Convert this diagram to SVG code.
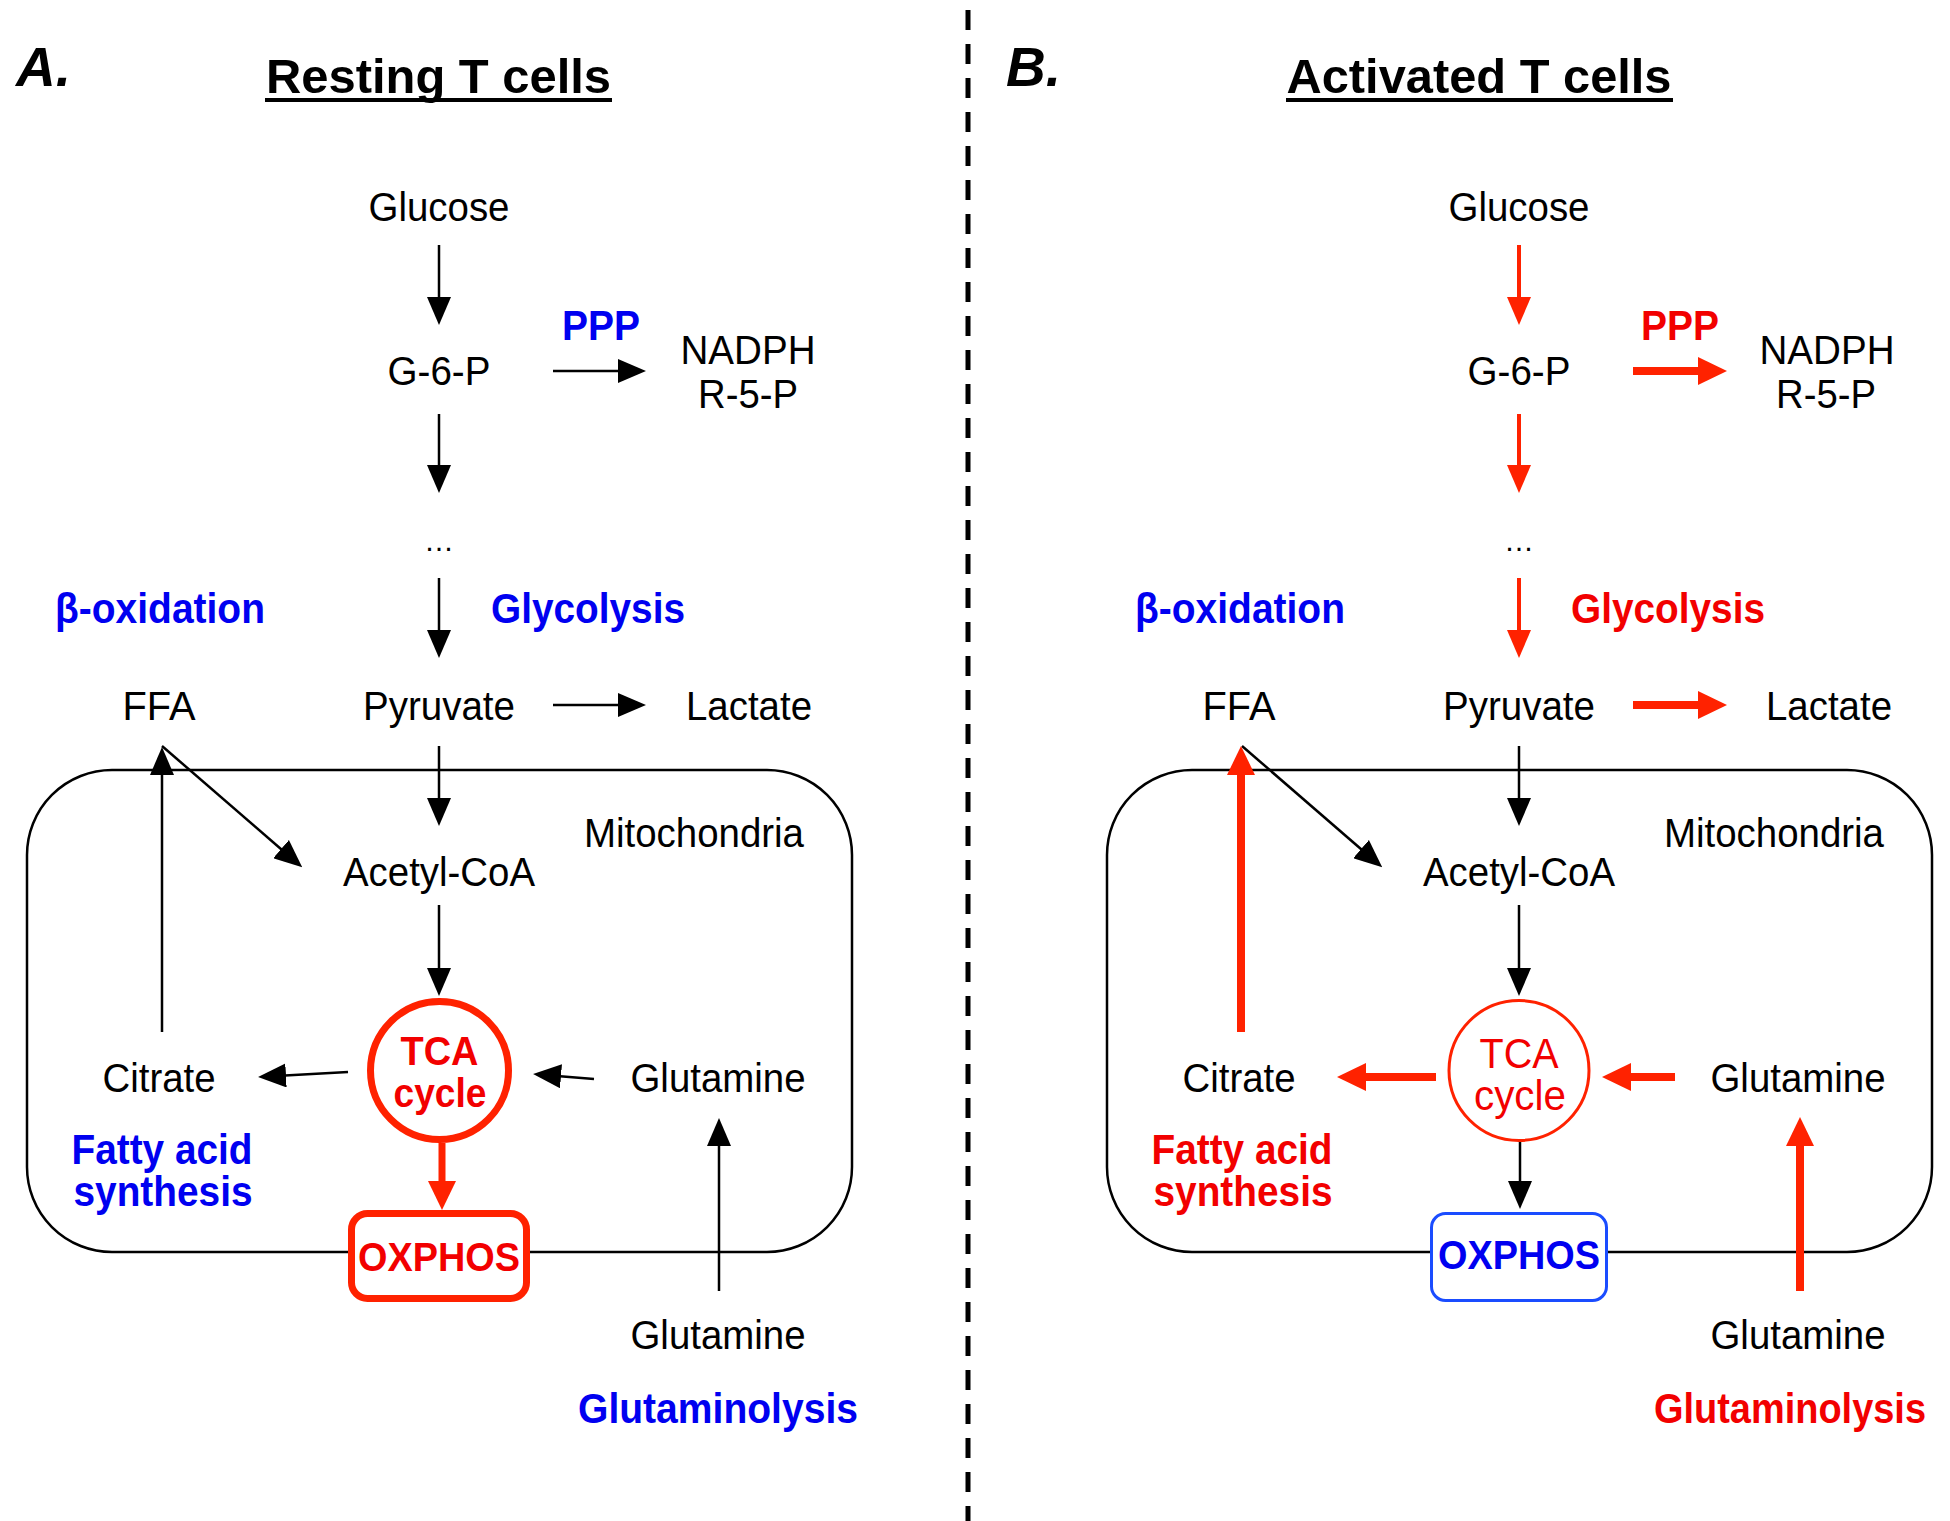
<svg xmlns="http://www.w3.org/2000/svg" width="1950" height="1521" viewBox="0 0 1950 1521">
<style>
text{font-family:"Liberation Sans",Arial,sans-serif;text-anchor:middle;fill:#000;font-size:41px}
.b{font-weight:bold;font-size:42px}
.ttl{font-weight:bold;font-size:49px}
.lab{font-weight:bold;font-style:italic;font-size:55px;text-anchor:start}
.blue{fill:#0000f0}
.red{fill:#f20000}
.k{stroke:#000;stroke-width:2.5;fill:none}
.rt{stroke:#ff2200;stroke-width:4;fill:none}
.rk{stroke:#ff2200;stroke-width:8;fill:none}
.mito{fill:none;stroke:#000;stroke-width:2.5}
</style>
<defs>
<marker id="hk" markerUnits="userSpaceOnUse" viewBox="0 0 28 24" markerWidth="28" markerHeight="24" refX="1" refY="12" orient="auto"><path d="M0,0L28,12L0,24z" fill="#000"/></marker>
<marker id="hr" markerUnits="userSpaceOnUse" viewBox="0 0 28 24" markerWidth="28" markerHeight="24" refX="1" refY="12" orient="auto"><path d="M0,0L28,12L0,24z" fill="#ff2200"/></marker>
<marker id="hR" markerUnits="userSpaceOnUse" viewBox="0 0 29 28" markerWidth="29" markerHeight="28" refX="1" refY="14" orient="auto"><path d="M0,0L29,14L0,28z" fill="#ff2200"/></marker>
</defs>

<line x1="968" y1="10" x2="968" y2="1521" stroke="#000" stroke-width="5" stroke-dasharray="20 14"/>

<g id="panelA-titles">
<text class="lab" x="16" y="86">A.</text>
<text class="ttl" x="438.5" y="93" textLength="345" lengthAdjust="spacingAndGlyphs">Resting T cells</text>
<line x1="265" y1="100" x2="612" y2="100" stroke="#000" stroke-width="4"/>
</g>
<g id="panelB-titles">
<text class="lab" x="1006" y="86">B.</text>
<text class="ttl" x="1479" y="93" textLength="385" lengthAdjust="spacingAndGlyphs">Activated T cells</text>
<line x1="1286" y1="100" x2="1673" y2="100" stroke="#000" stroke-width="4"/>
</g>

<g id="mitoA"><rect class="mito" x="27" y="770" width="825" height="482" rx="85" ry="85"/><text x="694" y="847" textLength="220" lengthAdjust="spacingAndGlyphs">Mitochondria</text></g>
<g id="mitoB"><rect class="mito" x="1107" y="770" width="825" height="482" rx="85" ry="85"/><text x="1774" y="847" textLength="220" lengthAdjust="spacingAndGlyphs">Mitochondria</text></g>

<g id="connectors">
<!-- Panel A -->
<line class="k" x1="439" y1="245" x2="439" y2="298" marker-end="url(#hk)"/>
<line class="k" x1="553" y1="371" x2="619" y2="371" marker-end="url(#hk)"/>
<line class="k" x1="439" y1="414" x2="439" y2="466" marker-end="url(#hk)"/>
<line class="k" x1="439" y1="578" x2="439" y2="631" marker-end="url(#hk)"/>
<line class="k" x1="553" y1="705" x2="619" y2="705" marker-end="url(#hk)"/>
<line class="k" x1="439" y1="746" x2="439" y2="799" marker-end="url(#hk)"/>
<line class="k" x1="162" y1="746" x2="281.8" y2="849.7" marker-end="url(#hk)"/>
<line class="k" x1="162" y1="1032" x2="162" y2="774" marker-end="url(#hk)"/>
<line class="k" x1="439" y1="905" x2="439" y2="969" marker-end="url(#hk)"/>
<line class="k" x1="348" y1="1072" x2="285" y2="1075.5" marker-end="url(#hk)"/>
<line class="k" x1="594" y1="1079" x2="560" y2="1076.2" marker-end="url(#hk)"/>
<line x1="442" y1="1143" x2="442" y2="1182" stroke="#ff2200" stroke-width="7" marker-end="url(#hR)"/>
<line class="k" x1="719" y1="1291" x2="719" y2="1145" marker-end="url(#hk)"/>
<!-- Panel B -->
<line class="rt" x1="1519" y1="245" x2="1519" y2="298" marker-end="url(#hr)"/>
<line class="rk" x1="1633" y1="371" x2="1699" y2="371" marker-end="url(#hR)"/>
<line class="rt" x1="1519" y1="414" x2="1519" y2="466" marker-end="url(#hr)"/>
<line class="rt" x1="1519" y1="578" x2="1519" y2="631" marker-end="url(#hr)"/>
<line class="rk" x1="1633" y1="705" x2="1699" y2="705" marker-end="url(#hR)"/>
<line class="k" x1="1519" y1="746" x2="1519" y2="799" marker-end="url(#hk)"/>
<line class="k" x1="1242" y1="746" x2="1361.8" y2="849.7" marker-end="url(#hk)"/>
<line class="rk" x1="1241" y1="1032" x2="1241" y2="774" marker-end="url(#hR)"/>
<line class="k" x1="1519" y1="905" x2="1519" y2="969" marker-end="url(#hk)"/>
<line class="rk" x1="1436" y1="1077" x2="1365" y2="1077" marker-end="url(#hR)"/>
<line class="rk" x1="1675" y1="1077" x2="1630" y2="1077" marker-end="url(#hR)"/>
<line class="k" x1="1520" y1="1142" x2="1520" y2="1182" marker-end="url(#hk)"/>
<line class="rk" x1="1800" y1="1291" x2="1800" y2="1145" marker-end="url(#hR)"/>
</g>

<!-- Panel A nodes -->
<g id="A-glucose"><text x="439" y="221" textLength="141" lengthAdjust="spacingAndGlyphs">Glucose</text></g>
<g id="A-g6p"><text x="439" y="385" textLength="103" lengthAdjust="spacingAndGlyphs">G-6-P</text></g>
<g id="A-ppp"><text class="b blue" x="601" y="340" textLength="78" lengthAdjust="spacingAndGlyphs">PPP</text></g>
<g id="A-nadph"><text><tspan x="748" y="364" textLength="135" lengthAdjust="spacingAndGlyphs">NADPH</tspan><tspan x="748" y="408" textLength="100" lengthAdjust="spacingAndGlyphs">R-5-P</tspan></text></g>
<g id="A-dots"><text x="439" y="551" style="font-size:30px">…</text></g>
<g id="A-boxid"><text class="b blue" x="160" y="623" textLength="210" lengthAdjust="spacingAndGlyphs">β-oxidation</text></g>
<g id="A-glycolysis"><text class="b blue" x="588" y="623" textLength="194" lengthAdjust="spacingAndGlyphs">Glycolysis</text></g>
<g id="A-ffa"><text x="159" y="720" textLength="73" lengthAdjust="spacingAndGlyphs">FFA</text></g>
<g id="A-pyruvate"><text x="439" y="720" textLength="152" lengthAdjust="spacingAndGlyphs">Pyruvate</text></g>
<g id="A-lactate"><text x="749" y="720" textLength="126" lengthAdjust="spacingAndGlyphs">Lactate</text></g>
<g id="A-acetylcoa"><text x="439" y="886" textLength="192" lengthAdjust="spacingAndGlyphs">Acetyl-CoA</text></g>
<g id="A-tca"><circle cx="439.5" cy="1070.5" r="69" fill="#fff" stroke="#ff2200" stroke-width="7"/><text class="red" style="font-weight:bold;font-size:40px"><tspan x="439.5" y="1065" textLength="78" lengthAdjust="spacingAndGlyphs">TCA</tspan><tspan x="440" y="1107" textLength="93" lengthAdjust="spacingAndGlyphs">cycle</tspan></text></g>
<g id="A-citrate"><text x="159" y="1092" textLength="113" lengthAdjust="spacingAndGlyphs">Citrate</text></g>
<g id="A-glutamine"><text x="718" y="1092" textLength="175" lengthAdjust="spacingAndGlyphs">Glutamine</text></g>
<g id="A-fas"><text class="b blue"><tspan x="162" y="1164" textLength="181" lengthAdjust="spacingAndGlyphs">Fatty acid</tspan><tspan x="163" y="1206" textLength="179" lengthAdjust="spacingAndGlyphs">synthesis</tspan></text></g>
<g id="A-oxphos"><rect x="351.5" y="1213.5" width="175" height="85" rx="16" fill="#fff" stroke="#ff2200" stroke-width="7"/><text class="red" x="439" y="1271" style="font-weight:bold;font-size:40px" textLength="162" lengthAdjust="spacingAndGlyphs">OXPHOS</text></g>
<g id="A-glutamine-ext"><text x="718" y="1349" textLength="175" lengthAdjust="spacingAndGlyphs">Glutamine</text></g>
<g id="A-glutaminolysis"><text class="b blue" x="718" y="1423" textLength="280" lengthAdjust="spacingAndGlyphs">Glutaminolysis</text></g>

<!-- Panel B nodes -->
<g id="B-glucose"><text x="1519" y="221" textLength="141" lengthAdjust="spacingAndGlyphs">Glucose</text></g>
<g id="B-g6p"><text x="1519" y="385" textLength="103" lengthAdjust="spacingAndGlyphs">G-6-P</text></g>
<g id="B-ppp"><text class="b red" x="1680" y="340" textLength="78" lengthAdjust="spacingAndGlyphs">PPP</text></g>
<g id="B-nadph"><text><tspan x="1827" y="364" textLength="135" lengthAdjust="spacingAndGlyphs">NADPH</tspan><tspan x="1826" y="408" textLength="100" lengthAdjust="spacingAndGlyphs">R-5-P</tspan></text></g>
<g id="B-dots"><text x="1519" y="551" style="font-size:30px">…</text></g>
<g id="B-boxid"><text class="b blue" x="1240" y="623" textLength="210" lengthAdjust="spacingAndGlyphs">β-oxidation</text></g>
<g id="B-glycolysis"><text class="b red" x="1668" y="623" textLength="194" lengthAdjust="spacingAndGlyphs">Glycolysis</text></g>
<g id="B-ffa"><text x="1239" y="720" textLength="73" lengthAdjust="spacingAndGlyphs">FFA</text></g>
<g id="B-pyruvate"><text x="1519" y="720" textLength="152" lengthAdjust="spacingAndGlyphs">Pyruvate</text></g>
<g id="B-lactate"><text x="1829" y="720" textLength="126" lengthAdjust="spacingAndGlyphs">Lactate</text></g>
<g id="B-acetylcoa"><text x="1519" y="886" textLength="192" lengthAdjust="spacingAndGlyphs">Acetyl-CoA</text></g>
<g id="B-tca"><circle cx="1519" cy="1070.5" r="70" fill="#fff" stroke="#ff2200" stroke-width="3"/><text class="red" style="font-size:42px"><tspan x="1519" y="1068" textLength="79" lengthAdjust="spacingAndGlyphs">TCA</tspan><tspan x="1520" y="1110" textLength="92" lengthAdjust="spacingAndGlyphs">cycle</tspan></text></g>
<g id="B-citrate"><text x="1239" y="1092" textLength="113" lengthAdjust="spacingAndGlyphs">Citrate</text></g>
<g id="B-glutamine"><text x="1798" y="1092" textLength="175" lengthAdjust="spacingAndGlyphs">Glutamine</text></g>
<g id="B-fas"><text class="b red"><tspan x="1242" y="1164" textLength="181" lengthAdjust="spacingAndGlyphs">Fatty acid</tspan><tspan x="1243" y="1206" textLength="179" lengthAdjust="spacingAndGlyphs">synthesis</tspan></text></g>
<g id="B-oxphos"><rect x="1431.5" y="1213.5" width="175" height="87" rx="14" fill="#fff" stroke="#1a4cff" stroke-width="3"/><text class="blue" x="1519" y="1269" style="font-weight:bold;font-size:40px" textLength="162" lengthAdjust="spacingAndGlyphs">OXPHOS</text></g>
<g id="B-glutamine-ext"><text x="1798" y="1349" textLength="175" lengthAdjust="spacingAndGlyphs">Glutamine</text></g>
<g id="B-glutaminolysis"><text class="b red" x="1790" y="1423" textLength="272" lengthAdjust="spacingAndGlyphs">Glutaminolysis</text></g>
</svg>
